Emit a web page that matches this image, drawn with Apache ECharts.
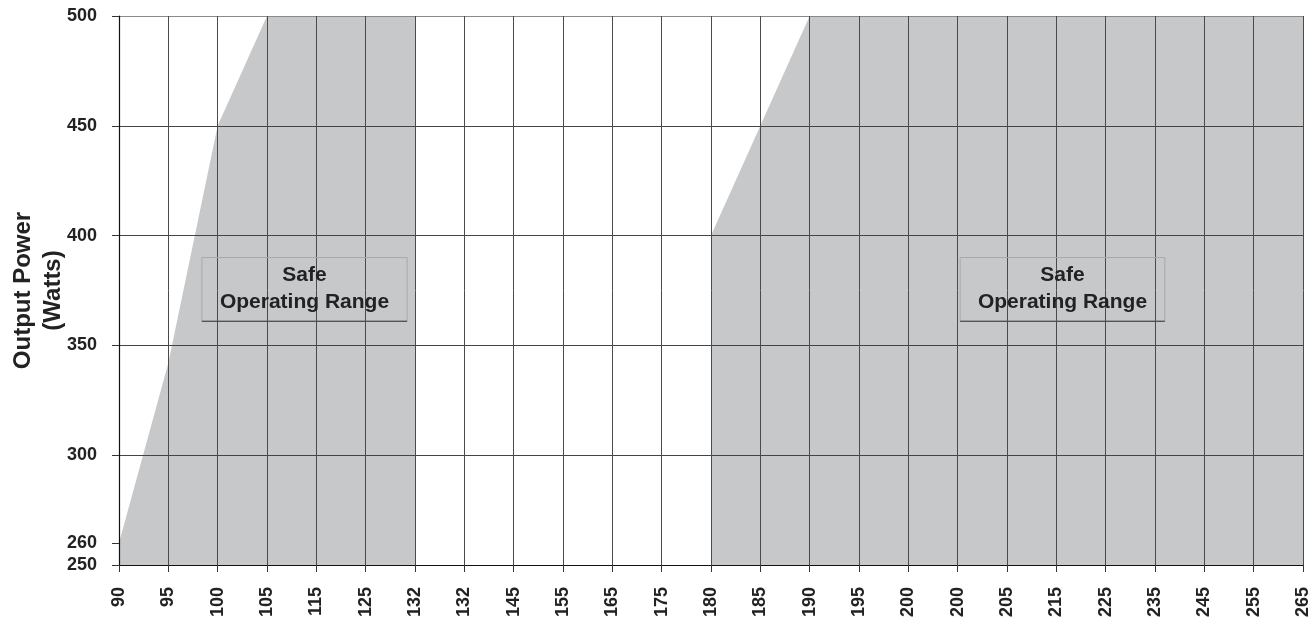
<!DOCTYPE html>
<html>
<head>
<meta charset="utf-8">
<script src="https://cdn.jsdelivr.net/npm/echarts@6/dist/echarts.min.js"></script>
<style>
html,body{margin:0;padding:0;background:#fff;}
#c{width:1311px;height:619px;}
</style>
</head>
<body>
<div id="c"></div>
<script>
// ---- data ----
const categories = ['90','95','100','105','115','125','132','132','145','155','165','175','180','185','190','195','200','200','205','215','225','235','245','255','265'];
const leftRange  = [260, 342, 450, 500, 500, 500, 500, null, null, null, null, null, null, null, null, null, null, null, null, null, null, null, null, null, null];
const rightRange = [null, null, null, null, null, null, null, null, null, null, null, null, 400, 450, 500, 500, 500, 500, 500, 500, 500, 500, 500, 500, 500];
const yTickLabels = [250, 260, 300, 350, 400, 450, 500];
const boxLabel = 'Safe\nOperating Range';

const FONT = '"Liberation Sans", Arial, Helvetica, sans-serif';
const FILL = '#c7c8ca';
const chart = echarts.init(document.getElementById('c'), null, {renderer: 'canvas'});

chart.setOption({
  animation: false,
  backgroundColor: '#fff',
  grid: {left: 119, right: 8, top: 16, bottom: 54, containLabel: false, outerBoundsMode: 'none'},
  xAxis: {
    type: 'category',
    data: categories,
    boundaryGap: false,
    z: 3,
    axisLine: {show: true, lineStyle: {color: '#111', width: 1.2}},
    axisTick: {show: true, interval: 0, length: 7, lineStyle: {color: '#333'}},
    axisLabel: {interval: 0, rotate: 90, margin: 22, fontFamily: FONT, fontWeight: 'bold', fontSize: 18, color: '#222', hideOverlap: false},
    splitLine: {show: true, interval: 0, lineStyle: {color: '#4a4a4a', width: 1}}
  },
  yAxis: [{
    type: 'value', min: 250, max: 500, interval: 50, z: 3,
    axisLine: {show: true, lineStyle: {color: '#111', width: 1.2}},
    axisTick: {show: false},
    axisLabel: {show: false},
    splitLine: {show: true, lineStyle: {color: ['#333','#444','#444','#444','#444','#8a8a8a'], width: 1}},
    name: 'Output Power\n(Watts)',
    nameLocation: 'middle',
    nameGap: 51,
    nameTextStyle: {fontFamily: FONT, fontWeight: 'bold', fontSize: 24, color: '#222', lineHeight: 30}
  }, {
    type: 'value', min: 250, max: 500, interval: 50, position: 'left', z: 3,
    axisLine: {show: false},
    axisTick: {show: true, length: 7, customValues: yTickLabels, lineStyle: {color: '#333'}},
    axisLabel: {show: true, customValues: yTickLabels, margin: 22, fontFamily: FONT, fontWeight: 'bold', fontSize: 18, color: '#222'},
    splitLine: {show: false}
  }],
  series: [{
    type: 'line', data: leftRange, yAxisIndex: 0, showSymbol: false, silent: true, z: 1,
    lineStyle: {width: 0, color: FILL}, itemStyle: {color: FILL},
    areaStyle: {color: FILL, opacity: 1, origin: 'start'}
  }, {
    type: 'line', data: rightRange, yAxisIndex: 0, showSymbol: false, silent: true, z: 1,
    lineStyle: {width: 0, color: FILL}, itemStyle: {color: FILL},
    areaStyle: {color: FILL, opacity: 1, origin: 'start'}
  }]
});

// annotation boxes, positioned in data units (category index / watts)
const boxes = [
  {from: 1.68, to: 5.84, top: 390, bottom: 361},
  {from: 17.05, to: 21.2, top: 390, bottom: 361}
];
function xPix(idx) {
  const a = chart.convertToPixel({xAxisIndex: 0}, 0);
  const b = chart.convertToPixel({xAxisIndex: 0}, categories.length - 1);
  return a + (b - a) * idx / (categories.length - 1);
}
function yPix(v) { return chart.convertToPixel({yAxisIndex: 0}, v); }
const elements = [];
boxes.forEach(function (bx) {
  const x1 = xPix(bx.from), x2 = xPix(bx.to), y1 = yPix(bx.top), y2 = yPix(bx.bottom);
  elements.push({type: 'rect', z: 10, shape: {x: x1, y: y1, width: x2 - x1, height: y2 - y1},
    style: {fill: 'rgba(0,0,0,0)', stroke: '#a8a8a8', lineWidth: 1}});
  elements.push({type: 'line', z: 11, shape: {x1: x1, y1: y2, x2: x2, y2: y2},
    style: {stroke: '#333', lineWidth: 1}});
  elements.push({type: 'text', z: 12, x: (x1 + x2) / 2, y: (y1 + y2) / 2 - 1,
    style: {text: boxLabel, align: 'center', verticalAlign: 'middle', fontFamily: FONT, fontWeight: 'bold', fontSize: 21, lineHeight: 27, fill: '#222'}});
});
chart.setOption({graphic: {elements: elements}});
</script>
</body>
</html>
